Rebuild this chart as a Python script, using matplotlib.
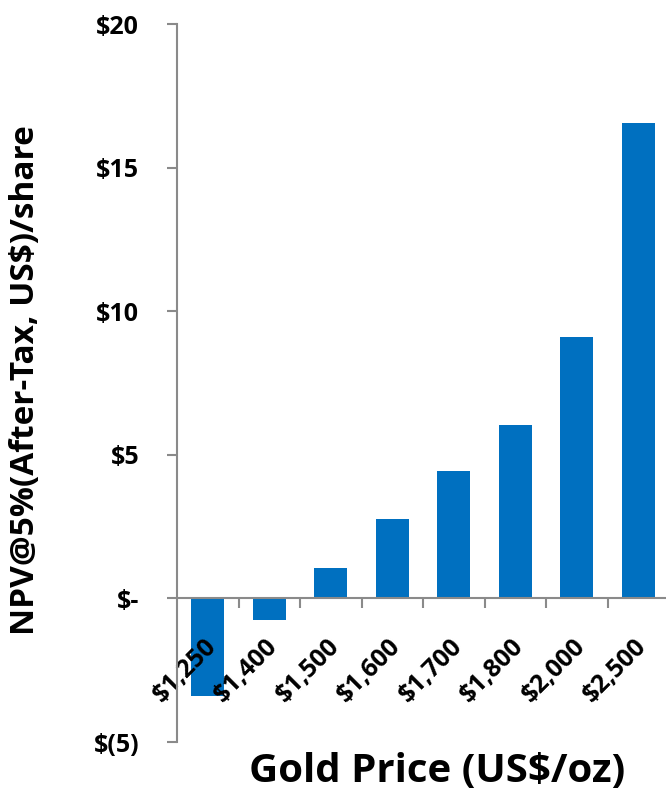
import matplotlib
matplotlib.use("Agg")
import matplotlib.pyplot as plt
from matplotlib.transforms import ScaledTranslation

plt.rcParams['font.family'] = ['Open Sans', 'DejaVu Sans']
plt.rcParams['font.weight'] = 'bold'

categories = ["$1,250", "$1,400", "$1,500", "$1,600", "$1,700", "$1,800", "$2,000", "$2,500"]
npv_values = [-3.4, -0.75, 1.05, 2.75, 4.45, 6.05, 9.1, 16.55]
y_ticks = [-5, 0, 5, 10, 15, 20]
y_tick_labels = ["$(5)", "$-", "$5", "$10", "$15", "$20"]

W, H = 666, 798
fig = plt.figure(figsize=(W / 100, H / 100), dpi=100)
left, right, top, bottom = 177, 669, 24, 742
ax = fig.add_axes([left / W, 1 - bottom / H, (right - left) / W, (bottom - top) / H])

bar_color = "#0070C0"
spine_color = "#8A8A8A"
x = list(range(len(categories)))
ax.bar(x, npv_values, width=0.53, color=bar_color, zorder=1)

ax.set_xlim(-0.5, len(categories) - 0.5)
ax.set_ylim(-5, 20)

for s in ["top", "right"]:
    ax.spines[s].set_visible(False)
ax.spines["bottom"].set_position(("data", 0))
ax.spines["bottom"].set_color(spine_color)
ax.spines["left"].set_color(spine_color)
ax.spines["bottom"].set_linewidth(1.5)
ax.spines["left"].set_linewidth(1.5)

ax.set_yticks(y_ticks)
ax.set_yticklabels(y_tick_labels, fontsize=18, fontweight="bold")
ax.tick_params(axis="y", direction="out", length=7.2, width=1.5, color=spine_color, pad=20)

ax.set_xticks(x)
ax.set_xticklabels(categories, fontsize=18, fontweight="bold", rotation=45,
                   ha="right", va="center", rotation_mode="anchor")
ax.tick_params(axis="x", which="major", length=0, pad=32)
ax.set_xticks([i + 0.5 for i in x[:-1]], minor=True)
ax.tick_params(axis="x", which="minor", direction="out", length=7, width=1.5, color=spine_color)
offset = ScaledTranslation(5 / 100, 0, fig.dpi_scale_trans)
for lbl in ax.get_xticklabels():
    lbl.set_transform(lbl.get_transform() + offset)
    lbl.set_zorder(5)

fig.text(26 / W, 1 - 380 / H, "NPV@5%(After-Tax, US$)/share", rotation=90,
         ha="center", va="center", fontsize=24, fontweight="bold")
fig.text(437 / W, 1 - 771 / H, "Gold Price (US$/oz)", ha="center", va="center",
         fontsize=29, fontweight="bold")

fig.savefig("out.png", dpi=100)
